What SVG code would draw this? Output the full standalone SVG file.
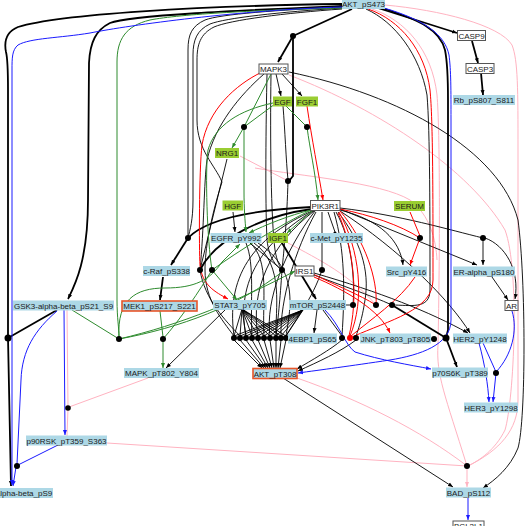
<svg xmlns="http://www.w3.org/2000/svg" width="525" height="526" viewBox="0 0 525 526">
<defs>
<style>
.k{fill:none;stroke:#000;stroke-width:0.9}
.kt{fill:none;stroke:#000;stroke-width:1.8}
.b{fill:none;stroke:#1a1aff;stroke-width:1}
.g{fill:none;stroke:#2e8b2e;stroke-width:1}
.r{fill:none;stroke:#f00;stroke-width:1}
.p{fill:none;stroke:#ffb3c1;stroke-width:1}
.dot{fill:#000}
.lb{fill:#add8e6;stroke:none}
.gr{fill:#9acd32;stroke:none}
.wh{fill:#fff;stroke:#555;stroke-width:1}
.hl{fill:#add8e6;stroke:#e8562a;stroke-width:1.6}
text{font-family:"Liberation Sans",Arial,sans-serif;font-size:8px;fill:#1a1a1a;text-anchor:middle}
</style>
<marker id="ak" viewBox="0 0 10 10" refX="10" refY="5" markerWidth="5" markerHeight="5" markerUnits="userSpaceOnUse" orient="auto"><path d="M0,1L10,5L0,9z" fill="#000"/></marker>
<marker id="ab" viewBox="0 0 10 10" refX="10" refY="5" markerWidth="5" markerHeight="5" markerUnits="userSpaceOnUse" orient="auto"><path d="M0,1L10,5L0,9z" fill="#1a1aff"/></marker>
<marker id="ag" viewBox="0 0 10 10" refX="10" refY="5" markerWidth="5" markerHeight="5" markerUnits="userSpaceOnUse" orient="auto"><path d="M0,1L10,5L0,9z" fill="#2e8b2e"/></marker>
<marker id="ar" viewBox="0 0 10 10" refX="10" refY="5" markerWidth="5" markerHeight="5" markerUnits="userSpaceOnUse" orient="auto"><path d="M0,1L10,5L0,9z" fill="#f00"/></marker>
<marker id="ap" viewBox="0 0 10 10" refX="10" refY="5" markerWidth="5" markerHeight="5" markerUnits="userSpaceOnUse" orient="auto"><path d="M0,1L10,5L0,9z" fill="#ffb3c1"/></marker>
</defs>
<rect width="525" height="526" fill="#fff"/>
<g id="connectors">
<!-- pink -->
<path class="p" d="M385,5 C440,10 500,25 512,45 C518,60 518,90 518,150 L518,400 C518,430 500,450 468,466"/>
<path class="p" d="M289,75 C380,110 470,170 505,230 C520,270 514,400 505,430 C495,450 480,460 468,466"/>
<path class="p" d="M372,9 C405,20 432,50 437,95 C440,130 440,250 438,345 C436,375 445,395 467,466"/>
<path class="p" d="M255,168 C300,176 380,182 410,200 C430,215 436,240 437,260"/>
<path class="p" d="M240,156 L288,181"/>
<path class="p" d="M288,243 C320,260 350,275 376,305"/>
<path class="p" d="M297,378 C360,400 420,430 467,466"/>
<path class="p" d="M107,443 L467,466"/>
<path class="p" d="M148,378 L69,407"/>
<path class="p" d="M67,310 L68,408 L67,436"/>
<path class="p" marker-end="url(#ap)" d="M467,466 L467,487"/>
<!-- thick black -->
<path class="kt" marker-end="url(#ak)" d="M342,4 C200,6 60,14 18,27 C6,32 4,42 6,52 C8,60 8,70 8,90 L8,338 L11,486"/>
<path class="kt" d="M57,310 L8,338"/>
<path class="kt" marker-end="url(#ak)" d="M342,6 C250,10 130,15 110,23 C96,30 90,42 89,63 L88,200 C88,260 75,285 68,299"/>
<path class="kt" d="M352,9 L293,36"/>
<path class="kt" marker-end="url(#ak)" d="M293,36 L278,62"/>
<path class="kt" d="M293,36 L293,176 L289,181"/>
<path class="kt" d="M312,207 C250,210 205,220 188,238"/>
<path class="kt" marker-end="url(#ak)" d="M188,238 L171,265"/>
<path class="kt" d="M312,209 C260,216 215,240 200,270"/>
<path class="kt" marker-end="url(#ak)" d="M163,277 L160,300"/>
<path class="kt" marker-end="url(#ak)" d="M282,243 L316,299"/>
<path class="kt" marker-end="url(#ak)" d="M378,8 L457,33"/>
<path class="kt" marker-end="url(#ak)" d="M472,41 L478,63"/>
<path class="kt" marker-end="url(#ak)" d="M481,73 L483,95"/>
<path class="kt" d="M382,8 C420,20 440,30 445,50 C448,65 448,80 448,100 L448,330 L446,338"/>
<path class="kt" marker-end="url(#ak)" d="M446,338 L457,367"/>
<path class="kt" d="M392,305 L446,338"/>
<!-- thin black -->
<path class="k" d="M342,7 C280,10 220,14 205,20 C192,26 188,34 188,50 L188,238"/>
<path class="k" d="M342,8 C280,12 225,18 210,24 C197,30 193,40 193,55 L193,200 C193,220 190,230 188,238"/>
<path class="k" d="M342,9 C285,13 230,20 214,27 C200,34 197,45 197,60 L197,120 C197,150 215,165 222,182 C210,220 205,250 205,270 C205,300 222,320 234,336"/>
<path class="k" marker-end="url(#ak)" d="M283,378 L453,487"/>
<path class="k" marker-end="url(#ak)" d="M289,72 C400,95 500,150 518,220 C526,280 526,420 518,448 C510,468 495,480 483,488"/>
<path class="k" marker-end="url(#ak)" d="M233,212 L235,232"/>
<path class="k" marker-end="url(#ak)" d="M276,74 L281,96"/>
<path class="k" marker-end="url(#ak)" d="M282,74 L302,96"/>
<path class="k" d="M267,74 C266,120 265,200 267,240 C269,258 276,266 282,270"/>
<path class="k" d="M271,74 C270,140 271,220 275,250 C277,262 280,267 282,270"/>
<path class="k" d="M283,106 C285,130 286,160 288,180 C287,220 284,250 282,270"/>
<path class="k" d="M264,74 C240,95 215,125 207,160 C204,180 204,230 200,270"/>
<path class="k" d="M227,159 L200,270"/>
<path class="k" d="M200,270 C205,300 225,320 240,336"/>
<path class="k" d="M328,212 L335,232"/>
<path class="k" marker-end="url(#ak)" d="M340,210 C380,220 400,240 403,265"/>
<path class="k" stroke-width="1.3" marker-end="url(#ak)" d="M340,209 L477,265"/>
<path class="k" d="M340,208 C400,215 450,230 483,238"/>
<path class="k" marker-end="url(#ak)" d="M483,238 L483,265"/>
<path class="k" marker-end="url(#ak)" d="M485,238 C505,245 520,270 515,299"/>
<path class="k" marker-end="url(#ak)" d="M492,277 L508,300"/>
<path class="k" marker-end="url(#ak)" d="M340,211 C400,250 450,300 470,333"/>
<path class="k" marker-end="url(#ak)" d="M314,273 C380,292 430,312 468,333"/>
<path class="k" d="M314,275 C340,285 370,295 392,305"/>
<path class="k" d="M366,9 C395,22 420,55 427,95 C430,130 430,220 430,290 C430,310 410,305 392,305"/>
<path class="k" d="M338,212 C360,240 370,270 365,300 C362,320 358,330 356,336"/>
<path class="k" d="M336,212 C352,240 355,280 353,305"/>
<path class="k" d="M334,212 C345,250 345,290 342,336"/>
<path class="k" d="M322,212 L322,268"/>
<path class="k" d="M322,270 C312,300 295,320 286,336"/>
<path class="k" d="M282,270 C280,300 278,320 276,336"/>
<path class="k" d="M250,243 L282,270"/>
<path class="k" marker-end="url(#ak)" d="M317,310 L314,333"/>
<path class="k" d="M323,310 L342,336"/>
<path class="k" d="M346,305 L351,305"/>
<path class="k" marker-end="url(#ak)" d="M342,340 C330,350 312,360 297,369"/>
<path class="k" marker-end="url(#ak)" d="M356,340 C340,352 318,362 298,371"/>
<path class="k" marker-end="url(#ak)" d="M226,309 L166,368"/>
<path class="k" d="M312,211 C260,235 225,270 234,336"/>
<path class="k" d="M313,211 C265,240 235,280 246,336"/>
<path class="k" d="M314,211 C270,245 250,290 258,336"/>
<path class="k" d="M315,211 C285,250 265,300 270,336"/>
<path class="k" d="M316,212 C295,250 280,300 281,336"/>
<path class="k" d="M246,243 C255,265 250,300 252,336"/>
<path class="k" d="M250,243 C270,260 262,300 264,336"/>
<path class="k" d="M254,243 C285,265 275,310 276,336"/>
<path class="k" d="M258,243 C300,270 290,310 286,336"/>
<path class="k" d="M242,309 L234,336 M242,309 L240,336 M242,309 L246,336 M242,309 L252,336 M242,309 L258,336 M242,309 L264,336 M242,309 L270,336 M242,309 L276,336 M242,309 L281,336 M242,309 L286,336"/>
<path class="k" d="M303,310 L234,336 M303,310 L240,336 M303,310 L246,336 M303,310 L252,336 M303,310 L258,336 M303,310 L264,336 M303,310 L270,336 M303,310 L276,336 M303,310 L281,336 M303,310 L286,336"/>
<path class="k" marker-end="url(#ak)" d="M234,340 L262,368"/>
<path class="k" marker-end="url(#ak)" d="M240,340 L264,368"/>
<path class="k" marker-end="url(#ak)" d="M246,340 L266,368"/>
<path class="k" marker-end="url(#ak)" d="M252,340 L268,368"/>
<path class="k" marker-end="url(#ak)" d="M258,340 L270,368"/>
<path class="k" marker-end="url(#ak)" d="M264,340 L272,368"/>
<path class="k" marker-end="url(#ak)" d="M270,340 L274,368"/>
<path class="k" marker-end="url(#ak)" d="M276,340 L276,368"/>
<path class="k" marker-end="url(#ak)" d="M281,340 L278,368"/>
<path class="k" marker-end="url(#ak)" d="M286,340 L280,368"/>
<!-- red -->
<path class="r" marker-end="url(#ar)" d="M307,106 C312,140 318,170 323,200"/>
<path class="r" marker-end="url(#ar)" d="M262,72 C235,85 208,110 202,145 C199,170 199,250 200,265 C202,285 215,292 228,299"/>
<path class="r" d="M368,9 C400,20 425,50 430,90 C433,120 433,200 433,280 C433,310 390,320 352,337"/>
<path class="r" d="M340,211 C365,240 378,280 376,305"/>
<path class="r" d="M339,212 C360,250 365,300 350,336"/>
<path class="r" d="M338,213 C355,250 358,300 349,336"/>
<path class="r" d="M313,274 C335,285 360,295 376,305"/>
<path class="r" marker-end="url(#ar)" d="M314,277 C345,290 380,310 390,333"/>
<path class="r" d="M410,212 L420,236"/>
<path class="r" d="M340,209 C370,215 400,225 420,238"/>
<path class="r" marker-end="url(#ar)" d="M420,238 L410,265"/>
<path class="r" d="M415,277 C400,300 370,320 351,336"/>
<!-- green -->
<path class="g" d="M342,8 C260,10 180,14 150,20 C125,26 117,40 117,62 L117,300 C117,318 119,328 119,337"/>
<path class="g" d="M72,310 L119,339"/>
<path class="g" marker-end="url(#ag)" d="M119,339 C180,325 240,300 295,271"/>
<path class="g" d="M119,339 C180,328 240,305 282,272"/>
<path class="g" marker-end="url(#ag)" d="M119,337 C117,300 135,288 165,288 C195,288 210,280 222,262 L240,244"/>
<path class="g" d="M160,311 L163,337"/>
<path class="g" marker-end="url(#ag)" d="M163,339 L163,368"/>
<path class="g" d="M163,339 C180,320 200,290 212,270"/>
<path class="g" d="M212,270 C240,250 280,225 311,210"/>
<path class="g" d="M273,103 C240,110 215,125 208,150 C205,170 207,240 212,270"/>
<path class="g" marker-end="url(#ag)" d="M311,210 C290,215 265,225 249,233"/>
<path class="g" marker-end="url(#ag)" d="M312,211 L287,233"/>
<path class="g" marker-end="url(#ag)" d="M212,270 L237,300"/>
<path class="g" d="M271,74 L244,127 M275,104 L244,127"/>
<path class="g" marker-end="url(#ag)" d="M244,127 L232,148"/>
<path class="g" marker-end="url(#ag)" d="M244,127 L244,190 C244,210 245,220 246,232"/>
<path class="g" d="M286,106 L307,127"/>
<path class="g" marker-end="url(#ag)" d="M307,127 C310,150 315,170 318,200"/>
<!-- blue -->
<path class="b" marker-end="url(#ab)" d="M342,7 C240,10 130,25 90,33 C60,38 30,38 18,45 C12,50 12,58 12,70 L12,485"/>
<path class="b" d="M57,311 C35,330 22,350 21,380 L17,464"/>
<path class="b" d="M58,445 L18,465"/>
<path class="b" marker-end="url(#ab)" d="M16,467 L13,486"/>
<path class="b" marker-end="url(#ab)" d="M64,310 L65,435"/>
<path class="b" marker-end="url(#ab)" d="M384,8 C425,20 445,35 449,55 C451,70 451,90 451,120 L451,320 C451,345 420,355 390,360 C350,366 320,370 298,373"/>
<path class="b" marker-end="url(#ab)" d="M325,310 C340,325 345,345 355,352 C380,360 410,365 431,369"/>
<path class="b" d="M483,343 L496,372"/>
<path class="b" d="M512,311 C518,330 512,355 496,372"/>
<path class="b" marker-end="url(#ab)" d="M496,373 L493,402"/>
<path class="b" marker-end="url(#ab)" d="M479,343 C485,365 488,385 489,402"/>
<path class="b" marker-end="url(#ab)" d="M468,498 L468,520"/>
</g>
<g id="junctions">
<circle class="dot" cx="8" cy="338" r="3.5"/>
<circle class="dot" cx="17" cy="466" r="3"/>
<circle class="dot" cx="68" cy="408" r="2.8"/>
<circle class="dot" cx="119" cy="339" r="3"/>
<circle class="dot" cx="163" cy="339" r="3"/>
<circle class="dot" cx="188" cy="238" r="3"/>
<circle class="dot" cx="200" cy="270" r="3"/>
<circle class="dot" cx="212" cy="270" r="3"/>
<circle class="dot" cx="244" cy="127" r="3"/>
<circle class="dot" cx="307" cy="127" r="3"/>
<circle class="dot" cx="293" cy="36" r="3"/>
<circle class="dot" cx="288" cy="181" r="3"/>
<circle class="dot" cx="282" cy="270" r="3"/>
<circle class="dot" cx="322" cy="270" r="3"/>
<circle class="dot" cx="335" cy="233" r="1.6"/>
<circle class="dot" cx="420" cy="238" r="3"/>
<circle class="dot" cx="483" cy="238" r="3"/>
<circle class="dot" cx="353" cy="305" r="3"/>
<circle class="dot" cx="376" cy="305" r="3"/>
<circle class="dot" cx="392" cy="305" r="3"/>
<circle class="dot" cx="342" cy="338" r="3"/>
<circle cx="350" cy="338" r="3" fill="#f00"/>
<circle class="dot" cx="356" cy="338" r="3"/>
<circle class="dot" cx="434" cy="339" r="3"/>
<circle class="dot" cx="446" cy="338" r="3.5"/>
<circle class="dot" cx="496" cy="373" r="3"/>
<circle class="dot" cx="467" cy="466" r="3"/>
<circle class="dot" cx="234" cy="338" r="3"/><circle class="dot" cx="240" cy="338" r="3"/><circle class="dot" cx="246" cy="338" r="3"/><circle class="dot" cx="252" cy="338" r="3"/><circle class="dot" cx="258" cy="338" r="3"/><circle class="dot" cx="264" cy="338" r="3"/><circle class="dot" cx="270" cy="338" r="3"/><circle class="dot" cx="276" cy="338" r="3"/><circle class="dot" cx="281" cy="338" r="3"/><circle class="dot" cx="286" cy="338" r="3"/>
</g>
<g id="AKT_pS473"><rect class="lb" x="342" y="-1" width="43" height="10"/><text x="363.5" y="7">AKT_pS473</text></g>
<g id="CASP9"><rect class="wh" x="457.5" y="30.5" width="28" height="10"/><text x="471.5" y="38.5">CASP9</text></g>
<g id="CASP3"><rect class="wh" x="466" y="63.5" width="28" height="10"/><text x="480" y="71.5">CASP3</text></g>
<g id="Rb_pS807_S811"><rect class="lb" x="453" y="95" width="62" height="10"/><text x="484" y="103">Rb_pS807_S811</text></g>
<g id="MAPK3"><rect class="wh" x="259" y="64" width="29" height="10"/><text x="273.5" y="72">MAPK3</text></g>
<g id="EGF"><rect class="gr" x="273" y="96.5" width="19" height="10"/><text x="282.5" y="104.5">EGF</text></g>
<g id="FGF1"><rect class="gr" x="296" y="96.5" width="22" height="10"/><text x="307" y="104.5">FGF1</text></g>
<g id="NRG1"><rect class="gr" x="215" y="148" width="24" height="10"/><text x="227" y="156">NRG1</text></g>
<g id="HGF"><rect class="gr" x="222.5" y="200.5" width="20.5" height="10"/><text x="232.7" y="208.5">HGF</text></g>
<g id="PIK3R1"><rect class="wh" x="310.5" y="200.5" width="29.5" height="10"/><text x="325.2" y="208.5">PIK3R1</text></g>
<g id="SERUM"><rect class="gr" x="394" y="201" width="31" height="10"/><text x="409.5" y="209">SERUM</text></g>
<g id="EGFR_pY992"><rect class="lb" x="210.5" y="233" width="51" height="10"/><text x="236" y="241">EGFR_pY992</text></g>
<g id="IGF1"><rect class="gr" x="268" y="233" width="20" height="10"/><text x="278" y="241">IGF1</text></g>
<g id="c-Met_pY1235"><rect class="lb" x="310" y="233" width="53" height="10"/><text x="336.5" y="241">c-Met_pY1235</text></g>
<g id="c-Raf_pS338"><rect class="lb" x="143" y="266" width="47" height="10"/><text x="166.5" y="274">c-Raf_pS338</text></g>
<g id="IRS1"><rect class="wh" x="295" y="266" width="19" height="10"/><text x="304.5" y="274">IRS1</text></g>
<g id="Src_pY416"><rect class="lb" x="386" y="266.5" width="41" height="10"/><text x="406.5" y="274.5">Src_pY416</text></g>
<g id="ER-alpha_pS180"><rect class="lb" x="453" y="266.5" width="62" height="10"/><text x="484" y="274.5">ER-alpha_pS180</text></g>
<g id="GSK3-alpha-beta_pS21_S9"><rect class="lb" x="13" y="300.5" width="101" height="10"/><text x="63.5" y="308.5">GSK3-alpha-beta_pS21_S9</text></g>
<g id="MEK1_pS217_S221"><rect class="hl" x="122" y="301" width="75" height="10"/><text x="159.5" y="309">MEK1_pS217_S221</text></g>
<g id="STAT3_pY705"><rect class="lb" x="213" y="300" width="54" height="10"/><text x="240" y="308">STAT3_pY705</text></g>
<g id="mTOR_pS2448"><rect class="lb" x="289" y="300" width="57" height="10"/><text x="317.5" y="308">mTOR_pS2448</text></g>
<g id="AR"><rect class="wh" x="505" y="300.5" width="13" height="10"/><text x="511.5" y="308.5">AR</text></g>
<g id="4EBP1_pS65"><rect class="lb" x="288" y="333.5" width="49" height="10"/><text x="312.5" y="341.5">4EBP1_pS65</text></g>
<g id="JNK_pT803_pT805"><rect class="lb" x="360" y="333.5" width="71" height="10"/><text x="395.5" y="341.5">JNK_pT803_pT805</text></g>
<g id="HER2_pY1248"><rect class="lb" x="453" y="333.5" width="54" height="10"/><text x="480" y="341.5">HER2_pY1248</text></g>
<g id="MAPK_pT802_Y804"><rect class="lb" x="124" y="368" width="75" height="10"/><text x="161.5" y="376">MAPK_pT802_Y804</text></g>
<g id="AKT_pT308"><rect class="hl" x="253" y="368.5" width="44" height="10"/><text x="275" y="376.5">AKT_pT308</text></g>
<g id="p70S6K_pT389"><rect class="lb" x="432" y="367.5" width="56" height="10"/><text x="460" y="375.5">p70S6K_pT389</text></g>
<g id="HER3_pY1298"><rect class="lb" x="464" y="402.5" width="54" height="10"/><text x="491" y="410.5">HER3_pY1298</text></g>
<g id="p90RSK_pT359_S363"><rect class="lb" x="26" y="435.5" width="81" height="10"/><text x="66.5" y="443.5">p90RSK_pT359_S363</text></g>
<g id="GSK3-alpha-beta_pS9"><rect class="lb" x="-29" y="488" width="82" height="10"/><text x="12" y="496">GSK3-alpha-beta_pS9</text></g>
<g id="BAD_pS112"><rect class="lb" x="446" y="487.5" width="45" height="10"/><text x="468.5" y="495.5">BAD_pS112</text></g>
<g id="BCL2L1"><rect class="wh" x="453" y="521" width="31" height="10"/><text x="468.5" y="528.5">BCL2L1</text></g>
</svg>
